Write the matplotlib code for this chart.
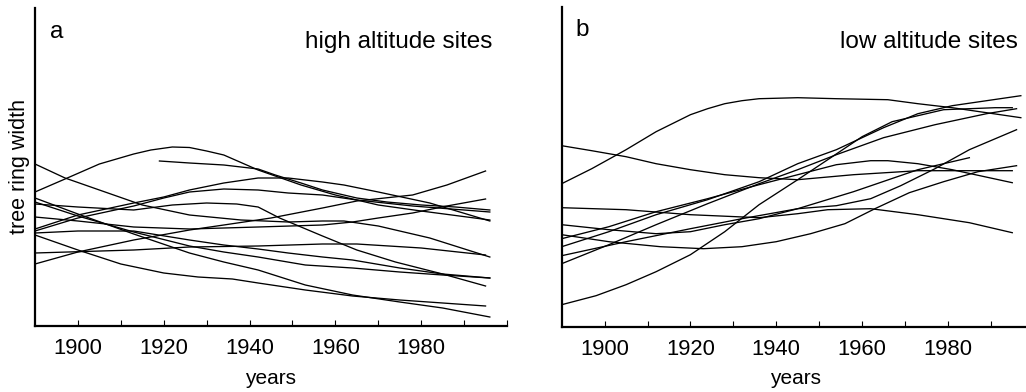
import matplotlib
matplotlib.use("Agg")
import matplotlib.pyplot as plt

plt.rcParams['font.family'] = ['Liberation Sans', 'DejaVu Sans']

# ---- panel a: high altitude sites (smoothed ring width series) ----
high_years = [
    [1890, 1897, 1905, 1913, 1917, 1922, 1926, 1930, 1934, 1942, 1946, 1952, 1960, 1970, 1980, 1996],
    [1919, 1926, 1934, 1942, 1946, 1952, 1957, 1965, 1972, 1980, 1988, 1996],
    [1890, 1900, 1913, 1920, 1926, 1934, 1942, 1949, 1957, 1962, 1970, 1982, 1996],
    [1890, 1900, 1913, 1920, 1926, 1934, 1942, 1949, 1957, 1965, 1978, 1996],
    [1890, 1900, 1913, 1922, 1930, 1937, 1942, 1947, 1952, 1957, 1961, 1965, 1974, 1985, 1995],
    [1890, 1897, 1905, 1915, 1926, 1938, 1949, 1957, 1962, 1970, 1982, 1996],
    [1890, 1900, 1913, 1926, 1934, 1945, 1957, 1965, 1978, 1986, 1995],
    [1890, 1900, 1913, 1926, 1942, 1957, 1964, 1970, 1978, 1986, 1995],
    [1890, 1900, 1913, 1926, 1934, 1942, 1949, 1957, 1964, 1975, 1985, 1996],
    [1890, 1913, 1926, 1942, 1957, 1965, 1980, 1995],
    [1890, 1900, 1913, 1926, 1934, 1942, 1953, 1964, 1975, 1985, 1996],
    [1890, 1900, 1913, 1926, 1934, 1942, 1953, 1964, 1975, 1985, 1996],
    [1890, 1900, 1910, 1920, 1928, 1936, 1942, 1953, 1964, 1975, 1985, 1995],
]
high_width = [
    [1.34, 1.47, 1.62, 1.72, 1.76, 1.79, 1.785, 1.75, 1.71, 1.56, 1.50, 1.41, 1.31, 1.21, 1.15, 1.06],
    [1.65, 1.63, 1.61, 1.57, 1.51, 1.43, 1.36, 1.28, 1.24, 1.21, 1.19, 1.16],
    [0.97, 1.11, 1.23, 1.29, 1.36, 1.43, 1.48, 1.48, 1.44, 1.41, 1.34, 1.23, 1.05],
    [0.95, 1.08, 1.20, 1.28, 1.34, 1.37, 1.36, 1.33, 1.31, 1.26, 1.20, 1.14],
    [1.22, 1.19, 1.16, 1.21, 1.23, 1.22, 1.19, 1.08, 0.99, 0.90, 0.83, 0.76, 0.64, 0.52, 0.40],
    [1.62, 1.48, 1.36, 1.21, 1.11, 1.06, 1.04, 1.05, 1.05, 1.00, 0.88, 0.69],
    [0.62, 0.74, 0.86, 0.96, 1.01, 1.08, 1.18, 1.25, 1.31, 1.41, 1.55],
    [1.09, 1.05, 0.99, 0.97, 0.99, 1.01, 1.04, 1.08, 1.13, 1.20, 1.27],
    [0.93, 0.95, 0.95, 0.86, 0.81, 0.77, 0.73, 0.69, 0.66, 0.58, 0.52, 0.48],
    [0.73, 0.76, 0.79, 0.80, 0.82, 0.82, 0.78, 0.71],
    [1.24, 1.10, 0.94, 0.80, 0.74, 0.69, 0.61, 0.58, 0.54, 0.51, 0.48],
    [1.28, 1.12, 0.92, 0.73, 0.64, 0.56, 0.41, 0.31, 0.24, 0.18, 0.09],
    [0.91, 0.76, 0.62, 0.53, 0.49, 0.47, 0.43, 0.36, 0.30, 0.26, 0.23, 0.20],
]

# ---- panel b: low altitude sites ----
low_years = [
    [1890, 1897, 1905, 1912, 1920, 1924, 1928, 1932, 1936, 1945, 1954, 1966, 1973, 1981, 1989, 1997],
    [1890, 1897, 1905, 1912, 1920, 1928, 1936, 1945, 1958, 1973, 1985, 1995],
    [1890, 1901, 1912, 1924, 1936, 1945, 1954, 1962, 1966, 1973, 1981, 1995],
    [1890, 1898, 1905, 1912, 1920, 1928, 1936, 1945, 1952, 1960, 1967, 1979, 1991, 1995],
    [1890, 1901, 1912, 1924, 1936, 1945, 1954, 1965, 1977, 1989, 1996],
    [1890, 1905, 1920, 1932, 1945, 1958, 1973, 1985],
    [1890, 1905, 1920, 1936, 1945, 1952, 1962, 1973, 1985, 1995],
    [1890, 1901, 1912, 1920, 1928, 1936, 1945, 1954, 1962, 1969, 1977, 1985, 1996],
    [1890, 1901, 1913, 1923, 1932, 1940, 1948, 1956, 1963, 1971, 1979, 1987, 1996],
    [1890, 1901, 1912, 1924, 1936, 1945, 1954, 1965, 1973, 1981, 1989, 1997],
]
low_width = [
    [1.43, 1.58, 1.77, 1.95, 2.12, 2.18, 2.23, 2.26, 2.28, 2.29, 2.28, 2.27, 2.23, 2.19, 2.14, 2.09],
    [1.81, 1.76, 1.70, 1.63, 1.57, 1.52, 1.49, 1.47, 1.52, 1.56, 1.56, 1.56],
    [0.88, 1.00, 1.15, 1.28, 1.42, 1.52, 1.62, 1.66, 1.66, 1.63, 1.57, 1.44],
    [0.22, 0.31, 0.42, 0.55, 0.72, 0.95, 1.22, 1.47, 1.67, 1.90, 2.05, 2.17, 2.19, 2.19],
    [0.63, 0.82, 1.02, 1.23, 1.43, 1.57, 1.72, 1.89, 2.02, 2.13, 2.18],
    [0.71, 0.85, 0.98, 1.08, 1.18, 1.35, 1.57, 1.69],
    [1.19, 1.17, 1.12, 1.09, 1.13, 1.17, 1.18, 1.12, 1.04, 0.94],
    [1.02, 0.97, 0.93, 0.95, 1.02, 1.08, 1.18, 1.21, 1.28, 1.41, 1.58, 1.77, 1.97],
    [0.92, 0.85, 0.80, 0.78, 0.80, 0.85, 0.93, 1.03, 1.18, 1.34, 1.45, 1.55, 1.61],
    [0.80, 0.95, 1.12, 1.27, 1.45, 1.63, 1.77, 1.99, 2.13, 2.21, 2.26, 2.31],
]

tick_years = list(range(1900, 2001, 10))
tick_labels = [str(y) if y % 20 == 0 and y < 2000 else '' for y in tick_years]

W, H = 1026, 392
fig = plt.figure(figsize=(W / 100, H / 100), dpi=100)
ax1 = fig.add_axes([35 / W, 66 / H, 472 / W, 318 / H])
ax2 = fig.add_axes([561.7 / W, 65.3 / H, 464.3 / W, 319.7 / H])

for ax, yrs, wid in [(ax1, high_years, high_width), (ax2, low_years, low_width)]:
    for x, y in zip(yrs, wid):
        ax.plot(x, y, color='black', linewidth=0.95)
    ax.spines['top'].set_visible(False)
    ax.spines['right'].set_visible(False)
    ax.spines['left'].set_linewidth(1.6)
    ax.spines['bottom'].set_linewidth(1.6)
    ax.set_yticks([])
    ax.set_xticks(tick_years)
    ax.set_xticklabels(tick_labels)
    ax.tick_params(axis='x', direction='in', length=4.5, width=0.8, labelsize=15.8, pad=8.5)

ax1.set_xlim(1890, 2000)
ax1.set_ylim(0, 3.18)
ax2.set_xlim(1890, 1998.2)
ax2.set_ylim(0, 3.197)

fig.text(50 / W, 1 - 32 / H, 'a', fontsize=17.5, ha='left', va='center')
fig.text(492 / W, 1 - 42 / H, 'high altitude sites', fontsize=17.5, ha='right', va='center')
fig.text(575 / W, 1 - 30 / H, 'b', fontsize=17.5, ha='left', va='center')
fig.text(1018 / W, 1 - 42 / H, 'low altitude sites', fontsize=17.5, ha='right', va='center')
fig.text(271 / W, 1 - 378 / H, 'years', fontsize=15, ha='center', va='center')
fig.text(796 / W, 1 - 378 / H, 'years', fontsize=15, ha='center', va='center')
fig.text(20 / W, 1 - 167 / H, 'tree ring width', fontsize=15.5, rotation=90,
         ha='center', va='center')

fig.savefig('out.png', dpi=100)
